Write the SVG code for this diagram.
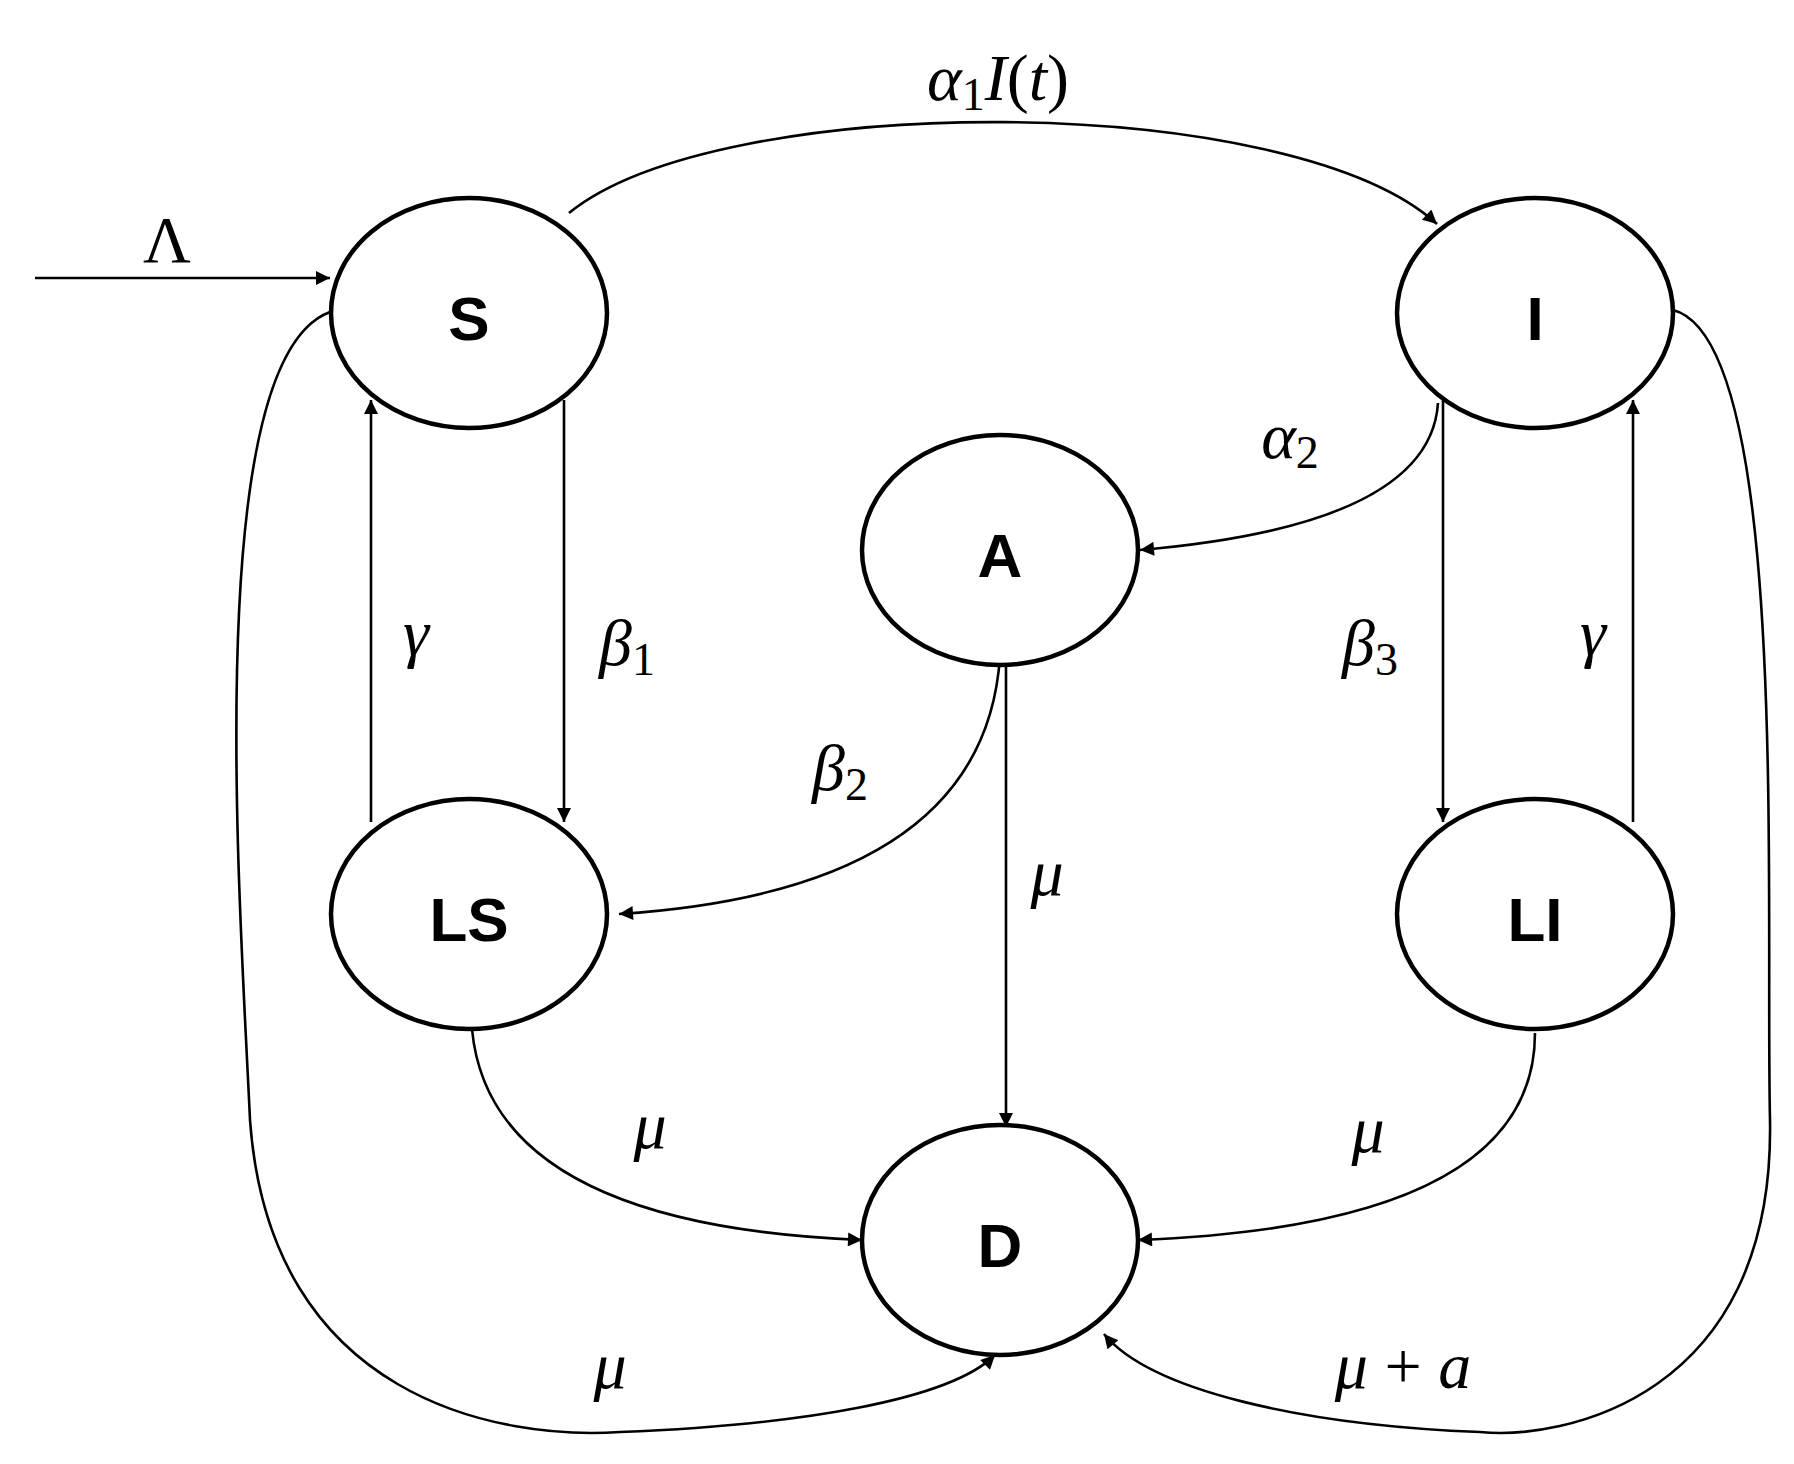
<svg xmlns="http://www.w3.org/2000/svg" width="1794" height="1464" viewBox="0 0 1794 1464">
<style>
.n ellipse{fill:#fff;stroke:#000;stroke-width:4.5}
.n text{font-family:"Liberation Sans",Arial,sans-serif;font-weight:bold;font-size:62px;text-anchor:middle;dominant-baseline:central}
.c path{fill:none;stroke:#000;stroke-width:2.6;marker-end:url(#ah)}
.l{font-family:"Liberation Serif","DejaVu Serif",serif;font-style:italic;font-size:66px;text-anchor:middle}
</style>
<defs><marker id="ah" viewBox="0 0 10 10" refX="10" refY="5" markerWidth="20" markerHeight="14" markerUnits="userSpaceOnUse" orient="auto"><path d="M0,0L10,5L0,10z" fill="#000"/></marker></defs>
<rect width="1794" height="1464" fill="#fff"/>
<g id="connectors" class="c">
<path d="M35,278 L330,278"/>
<path d="M569,213 C720,90 1290,90 1437,224"/>
<path d="M564,400 L564,822"/>
<path d="M371,822 L371,400"/>
<path d="M1443,400 L1443,822"/>
<path d="M1633,822 L1633,400"/>
<path d="M1438,403 Q1430,525 1140,550"/>
<path d="M1000,656 Q985,890 619,914"/>
<path d="M1006,656 L1006,1127"/>
<path d="M472,1029 Q490,1225 862,1240"/>
<path d="M1535,1033 Q1535,1225 1138,1240"/>
<path d="M330,312 C200,360 240,900 250,1120 C270,1400 500,1440 620,1432 C800,1425 950,1400 995,1355"/>
<path d="M1673,310 C1790,340 1765,900 1770,1120 C1775,1400 1560,1440 1480,1432 C1300,1425 1150,1390 1104,1334"/>
</g>
<g id="S" class="n"><ellipse cx="469" cy="313" rx="138" ry="115"/><text x="469" y="318">S</text></g>
<g id="I" class="n"><ellipse cx="1535" cy="313" rx="138" ry="115"/><text x="1535" y="318">I</text></g>
<g id="A" class="n"><ellipse cx="1000" cy="550" rx="138" ry="115"/><text x="1000" y="555">A</text></g>
<g id="LS" class="n"><ellipse cx="469" cy="914" rx="138" ry="115"/><text x="469" y="919">LS</text></g>
<g id="LI" class="n"><ellipse cx="1535" cy="914" rx="138" ry="115"/><text x="1535" y="919">LI</text></g>
<g id="D" class="n"><ellipse cx="1000" cy="1240" rx="138" ry="115"/><text x="1000" y="1245">D</text></g>
<g id="labels">
<text class="l" x="167" y="262" style="font-style:normal">Λ</text>
<text class="l" x="998" y="100">α<tspan font-size="46" font-style="normal" dy="10">1</tspan><tspan dy="-10">I</tspan><tspan font-style="normal">(</tspan>t<tspan font-style="normal">)</tspan></text>
<text class="l" x="416" y="655">γ</text>
<text class="l" x="627" y="665">β<tspan font-size="46" font-style="normal" dy="10">1</tspan></text>
<text class="l" x="1370" y="665">β<tspan font-size="46" font-style="normal" dy="10">3</tspan></text>
<text class="l" x="1593" y="655">γ</text>
<text class="l" x="1290" y="458">α<tspan font-size="46" font-style="normal" dy="10">2</tspan></text>
<text class="l" x="840" y="790">β<tspan font-size="46" font-style="normal" dy="10">2</tspan></text>
<text class="l" x="1047" y="895">μ</text>
<text class="l" x="650" y="1148">μ</text>
<text class="l" x="1368" y="1152">μ</text>
<text class="l" x="610" y="1388">μ</text>
<text class="l" x="1403" y="1388">μ <tspan font-style="normal">+</tspan> a</text>
</g>
</svg>
